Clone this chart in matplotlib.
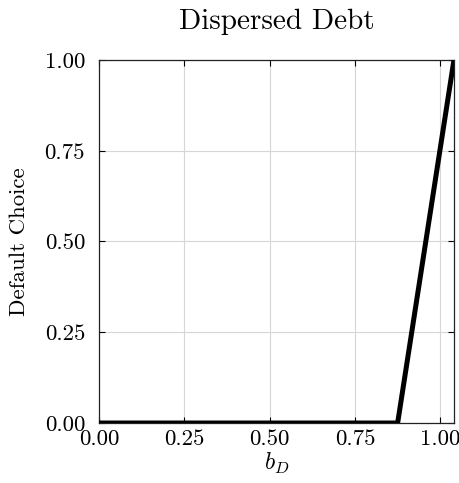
import numpy as np
import matplotlib
matplotlib.use('Agg')
import matplotlib.pyplot as plt

plt.rcParams['font.family'] = 'serif'
plt.rcParams['font.serif'] = ['cmr10']
plt.rcParams['mathtext.fontset'] = 'cm'
plt.rcParams['axes.unicode_minus'] = False

# default policy over dispersed debt grid
b_dispersed = [0.0, 0.875, 1.04]
default_choice = [0.0, 0.0, 1.0]

x_ticks = [0.0, 0.25, 0.5, 0.75, 1.0]
y_ticks = [0.0, 0.25, 0.5, 0.75, 1.0]
tick_labels = ['0.00', '0.25', '0.50', '0.75', '1.00']


def plot_default(ax):
    ax.plot(b_dispersed, default_choice, color='black', linewidth=3.6,
            solid_joinstyle='miter', zorder=3)
    ax.set_xlim(min(b_dispersed), max(b_dispersed))
    ax.set_ylim(min(default_choice), max(default_choice))
    ax.set_xticks(x_ticks)
    ax.set_xticklabels(tick_labels)
    ax.set_yticks(y_ticks)
    ax.set_yticklabels(tick_labels)
    ax.grid(True, color='#d6d6d6', linewidth=0.8)
    ax.tick_params(direction='in', top=True, right=True, length=4,
                   width=0.8, labelsize=16.5)
    ax.tick_params(axis='x', pad=5)
    ax.tick_params(axis='y', pad=10)
    for spine in ax.spines.values():
        spine.set_linewidth(0.9)
        spine.set_color('#222222')
    ax.set_xlabel(r'$b_D$', fontsize=17, labelpad=1)
    ax.set_ylabel('Default Choice', fontsize=16.5, labelpad=11)
    ax.set_title('Dispersed Debt', fontsize=21, pad=22)
    return


fig = plt.figure(figsize=(4.59, 4.83), dpi=100)
ax = fig.add_axes([0.2157, 0.1242, 0.7733, 0.7516])
plot_default(ax)
fig.savefig('out.png', dpi=100)
